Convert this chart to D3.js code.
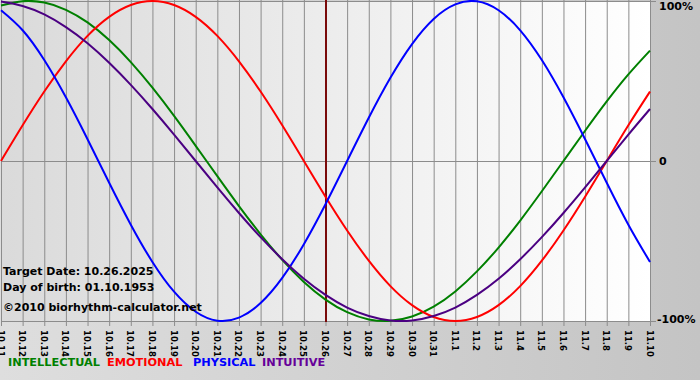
<!DOCTYPE html>
<html>
<head>
<meta charset="utf-8">
<script src="https://cdn.jsdelivr.net/npm/d3@7"></script>
<style>
  html, body { margin: 0; padding: 0; background: #c8c8c8; }
  svg { display: block; }
  text { font-family: 'DejaVu Sans', Verdana, sans-serif; font-weight: bold; }
</style>
</head>
<body>
<div id="chart"></div>
<script>
// day labels, 10.11 .. 11.10
const days = ['10.11','10.12','10.13','10.14','10.15','10.16','10.17','10.18','10.19','10.20',
  '10.21','10.22','10.23','10.24','10.25','10.26','10.27','10.28','10.29','10.30','10.31',
  '11.1','11.2','11.3','11.4','11.5','11.6','11.7','11.8','11.9','11.10'];

// cycle values (-1 .. 1)
const intellectual = [0.972, 0.999, 0.990, 0.945, 0.866, 0.756, 0.618, 0.458, 0.282, 0.095, -0.095,
  -0.282, -0.458, -0.618, -0.756, -0.866, -0.945, -0.990, -0.999, -0.972, -0.910,
  -0.815, -0.690, -0.541, -0.372, -0.189, 0.000, 0.189, 0.372, 0.541, 0.690];
const emotional = [0.000, 0.223, 0.434, 0.623, 0.782, 0.901, 0.975, 1.000, 0.975, 0.901, 0.782,
  0.623, 0.434, 0.223, 0.000, -0.223, -0.434, -0.623, -0.782, -0.901, -0.975,
  -1.000, -0.975, -0.901, -0.782, -0.623, -0.434, -0.223, 0.000, 0.223, 0.434];
const physical = [0.942, 0.817, 0.631, 0.398, 0.136, -0.136, -0.398, -0.631, -0.817, -0.942, -0.998,
  -0.979, -0.888, -0.731, -0.520, -0.270, 0.000, 0.270, 0.520, 0.731, 0.888,
  0.979, 0.998, 0.942, 0.817, 0.631, 0.398, 0.136, -0.136, -0.398, -0.631];
const intuitive = [0.997, 0.969, 0.916, 0.837, 0.736, 0.614, 0.476, 0.325, 0.165, 0.000, -0.165,
  -0.325, -0.476, -0.614, -0.736, -0.837, -0.916, -0.969, -0.997, -0.997, -0.969,
  -0.916, -0.837, -0.736, -0.614, -0.476, -0.325, -0.165, 0.000, 0.165, 0.325];

const targetDay = '10.26';
const yTicks = [1, 0, -1];
const yTickLabels = ['100%', '0', '-100%'];

const series = [
  { name: 'INTELLECTUAL', values: intellectual, color: '#008000', lx: 8 },
  { name: 'EMOTIONAL', values: emotional, color: '#ff0000', lx: 107 },
  { name: 'PHYSICAL', values: physical, color: '#0000ff', lx: 193 },
  { name: 'INTUITIVE', values: intuitive, color: '#4b0082', legendColor: '#660099', lx: 262 },
];

const W = 700, H = 380;
const m = { left: 1, right: 650, top: 1, bottom: 321 };

const svg = d3.select('#chart').append('svg')
  .attr('width', W).attr('height', H);

const defs = svg.append('defs');
const bg = defs.append('linearGradient').attr('id', 'bg-grad')
  .attr('x1', 0).attr('x2', 1).attr('y1', 0).attr('y2', 0);
bg.append('stop').attr('offset', '0%').attr('stop-color', '#dedede');
bg.append('stop').attr('offset', '100%').attr('stop-color', '#c4c4c4');
const plotGrad = defs.append('linearGradient').attr('id', 'plot-grad')
  .attr('x1', 0).attr('x2', 1).attr('y1', 0).attr('y2', 0);
plotGrad.append('stop').attr('offset', '0%').attr('stop-color', '#dadada');
plotGrad.append('stop').attr('offset', '100%').attr('stop-color', '#ffffff');

svg.append('rect').attr('width', W).attr('height', H).attr('fill', 'url(#bg-grad)');

const x = d3.scalePoint().domain(days).range([m.left, m.right]);
const y = d3.scaleLinear().domain([-1, 1]).range([m.bottom, m.top]);

svg.append('rect')
  .attr('x', m.left).attr('y', m.top)
  .attr('width', m.right - m.left).attr('height', m.bottom - m.top)
  .attr('fill', 'url(#plot-grad)');

// vertical grid, one per day
svg.append('g').selectAll('line').data(days).enter().append('line')
  .attr('x1', d => x(d) + 0.5).attr('x2', d => x(d) + 0.5)
  .attr('y1', m.top - 1).attr('y2', m.bottom + 5)
  .attr('stroke', '#8c8c8c').attr('stroke-width', 1);

// horizontal lines at 100%, 0, -100%
svg.append('g').selectAll('line').data(yTicks).enter().append('line')
  .attr('x1', m.left).attr('x2', m.right + 6)
  .attr('y1', d => Math.round(y(d)) + 0.5).attr('y2', d => Math.round(y(d)) + 0.5)
  .attr('stroke', '#8c8c8c').attr('stroke-width', 1);

svg.append('g').selectAll('text').data(yTicks).enter().append('text')
  .attr('x', d => d < 0 ? 657 : 659)
  .attr('y', d => y(d))
  .attr('dy', d => d > 0 ? '0.85em' : d < 0 ? '0.2em' : '0.35em')
  .attr('font-size', 11)
  .attr('fill', '#000')
  .text((d, i) => yTickLabels[i]);

// day labels, rotated
svg.append('g').selectAll('text').data(days).enter().append('text')
  .attr('transform', d => `translate(${x(d) - 3.5},${m.bottom + 9}) rotate(90)`)
  .attr('font-size', 8.5)
  .attr('fill', '#000')
  .text(d => d);

// target date line
svg.append('line')
  .attr('x1', x(targetDay) + 0.5).attr('x2', x(targetDay) + 0.5)
  .attr('y1', m.top - 1).attr('y2', m.bottom + 1)
  .attr('stroke', '#7a0a0a').attr('stroke-width', 2);

const line = d3.line()
  .x((d, i) => x(days[i]))
  .y(d => y(d))
  .curve(d3.curveNatural);

svg.append('g').selectAll('path').data(series).enter().append('path')
  .attr('d', s => line(s.values))
  .attr('fill', 'none')
  .attr('stroke', s => s.color)
  .attr('stroke-width', 2);

// info text
const info = ['Target Date: 10.26.2025', 'Day of birth: 01.10.1953'];
svg.append('g').selectAll('text').data(info).enter().append('text')
  .attr('x', 3).attr('y', (d, i) => 275 + i * 16)
  .attr('font-size', 11).attr('fill', '#000')
  .text(d => d);
svg.append('text').attr('x', 3).attr('y', 311)
  .attr('font-size', 11).attr('fill', '#000')
  .text('\u00a92010 biorhythm-calculator.net');

// legend
svg.append('g').selectAll('text').data(series).enter().append('text')
  .attr('x', s => s.lx).attr('y', 366)
  .attr('font-size', 11.3)
  .attr('fill', s => s.legendColor || s.color)
  .text(s => s.name);
</script>
</body>
</html>
